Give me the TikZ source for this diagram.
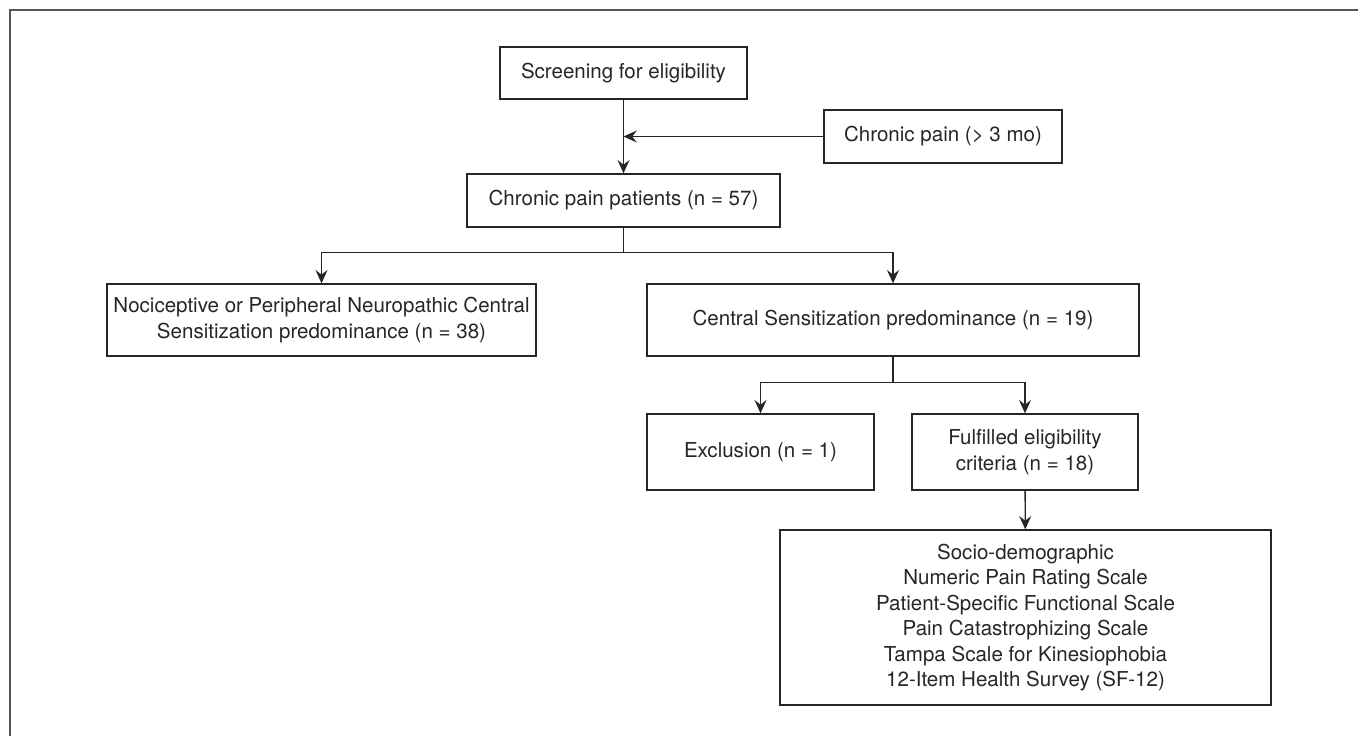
\documentclass[tikz,border=0pt]{standalone}
\usepackage{fontspec}
\setmainfont{TeX Gyre Heros}
\usepackage{tikz}
\usetikzlibrary{
    arrows.meta,
    positioning
}
\definecolor{Cline}{RGB}{40, 37, 38}
\definecolor{Cframe}{RGB}{85, 85, 85}
\tikzset{
    fbox/.style={
        rectangle, draw=Cline, line width=1pt,
        fill=white, text=Cline, align=center, inner sep=4pt,
        font=\fontsize{15.4}{19.1}\selectfont
    },
    farr/.style={-{Stealth[length=10pt, width=9pt, inset=3.5pt]}, line width=1pt, Cline},
    fline/.style={line width=1pt, Cline},
}

\begin{document}
\begin{tikzpicture}[x=0.75pt, y=0.75pt]

    \useasboundingbox (0,0) rectangle (1358,-736);
    \draw [Cframe, line width=1.5pt] (10,-736) -- (10,-10) -- (1358,-10);

    \node [fbox, minimum width=185.25pt, minimum height=39pt]
        (screen) at (623.5,-73) {Screening for eligibility};
    \node [fbox, minimum width=178.5pt, minimum height=39.75pt]
        (crit) at (943,-136.5) {Chronic pain (\textgreater{} 3 mo)};
    \node [fbox, minimum width=234.75pt, minimum height=39.75pt]
        (pat) at (623.5,-200.5) {Chronic pain patients (n = 57)};
    \node [fbox, minimum width=321.75pt, minimum height=54pt]
        (noci) at (321.5,-320) {Nociceptive or Peripheral Neuropathic Central \\ Sensitization predominance (n = 38)};
    \node [fbox, minimum width=369pt, minimum height=54pt]
        (cs) at (893,-320) {Central Sensitization predominance (n = 19)};
    \node [fbox, minimum width=170.25pt, minimum height=57pt]
        (excl) at (760.5,-452) {Exclusion (n = 1)};
    \node [fbox, minimum width=169.5pt, minimum height=57pt]
        (elig) at (1025,-452) {Fulfilled eligibility \\ criteria (n = 18)};
    \node [fbox, minimum width=368.25pt, minimum height=131.25pt]
        (meas) at (1025.5,-617.5) {Socio-demographic \\ Numeric Pain Rating Scale \\ Patient-Specific Functional Scale \\ Pain Catastrophizing Scale \\ Tampa Scale for Kinesiophobia \\ 12-Item Health Survey (SF-12)};

    \draw [farr] (screen) -- (pat);
    \draw [farr] (crit.west) -- (crit.west -| screen.south);
    \draw [fline] (pat.south) -- ++(0,-25) coordinate (split1);
    \draw [farr] (split1) -| (noci.north);
    \draw [farr] (split1) -| (cs.north);
    \draw [fline] (cs.south) -- ++(0,-26) coordinate (split2);
    \draw [farr] (split2) -| (excl.north);
    \draw [farr] (split2) -| (elig.north);
    \draw [farr] (elig) -- (meas);

\end{tikzpicture}
\end{document}
